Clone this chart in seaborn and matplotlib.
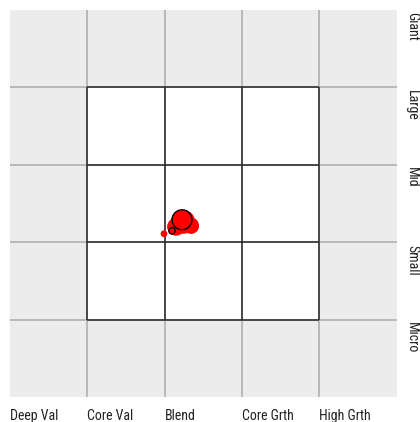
import matplotlib
matplotlib.use("Agg")
import matplotlib.pyplot as plt
from matplotlib import font_manager
from matplotlib.patches import Rectangle
import seaborn as sns
import pandas as pd

# Style-box axes: 5 columns (value -> growth), 5 rows (micro -> giant)
style_labels = ["Deep Val", "Core Val", "Blend", "Core Grth", "High Grth"]
size_labels = ["Giant", "Large", "Mid", "Small", "Micro"]

# Holdings (no outline): style score, size score, weight
holding_x = [2.238, 2.148, 2.342, 1.992]
holding_y = [2.264, 2.199, 2.212, 2.109]
holding_w = [100, 55, 45, 8]

# Portfolio centroids (outlined)
centroid_x = [2.225, 2.096]
centroid_y = [2.290, 2.147]
centroid_w = [68, 7]

holdings = pd.DataFrame({"style": holding_x, "size": holding_y, "weight": holding_w})
centroids = pd.DataFrame({"style": centroid_x, "size": centroid_y, "weight": centroid_w})

sns.set_theme(style="white")
names = {f.name for f in font_manager.fontManager.ttflist}
narrow = [n for n in ["Roboto Condensed", "Liberation Sans Narrow", "Arial Narrow"] if n in names]
plt.rcParams["font.family"] = narrow + ["Roboto", "DejaVu Sans"]

fig = plt.figure(figsize=(4.2, 4.22), dpi=100)
ax = fig.add_axes([10 / 420, 25 / 422, 386.5 / 420, 387 / 422])
ax.set_facecolor("#ececec")
ax.set_xlim(0, 5)
ax.set_ylim(0, 5)

# Inner 3x3 box
ax.add_patch(Rectangle((1, 1), 3, 3, facecolor="white", edgecolor="none", zorder=0.5))
ax.vlines([1, 2, 3, 4], 0, 5, color="#b4b4b4", lw=1.3, zorder=1)
ax.hlines([1, 2, 3, 4], 0, 5, color="#b4b4b4", lw=1.3, zorder=1)
ax.vlines([1, 2, 3, 4], 1, 4, color="#2a2a2a", lw=1.1, zorder=1.2)
ax.hlines([1, 2, 3, 4], 1, 4, color="#2a2a2a", lw=1.1, zorder=1.2)

area_per_weight = 3.0
sns.scatterplot(data=holdings, x="style", y="size", s=holdings["weight"] * area_per_weight,
                color="red", edgecolor="none", linewidth=0, legend=False, ax=ax, zorder=3)
sns.scatterplot(data=centroids, x="style", y="size", s=centroids["weight"] * area_per_weight,
                color="red", edgecolor="black", linewidth=1.0, legend=False, ax=ax, zorder=4)

for sp in ax.spines.values():
    sp.set_visible(False)
ax.set_xticks([])
ax.set_yticks([])
ax.set_xlabel("")
ax.set_ylabel("")

for i, lab in enumerate(style_labels):
    ax.text(i, -0.297, lab, ha="left", va="baseline", fontsize=10, color="#222222",
            fontstretch="condensed", transform=ax.transData, clip_on=False)
for i, lab in enumerate(size_labels):
    ax.text(5.2, 5 - i - 0.03, lab, ha="center", va="top", rotation=270, fontsize=10,
            color="#222222", fontstretch="condensed", transform=ax.transData, clip_on=False)

fig.savefig("out.png", dpi=100)
